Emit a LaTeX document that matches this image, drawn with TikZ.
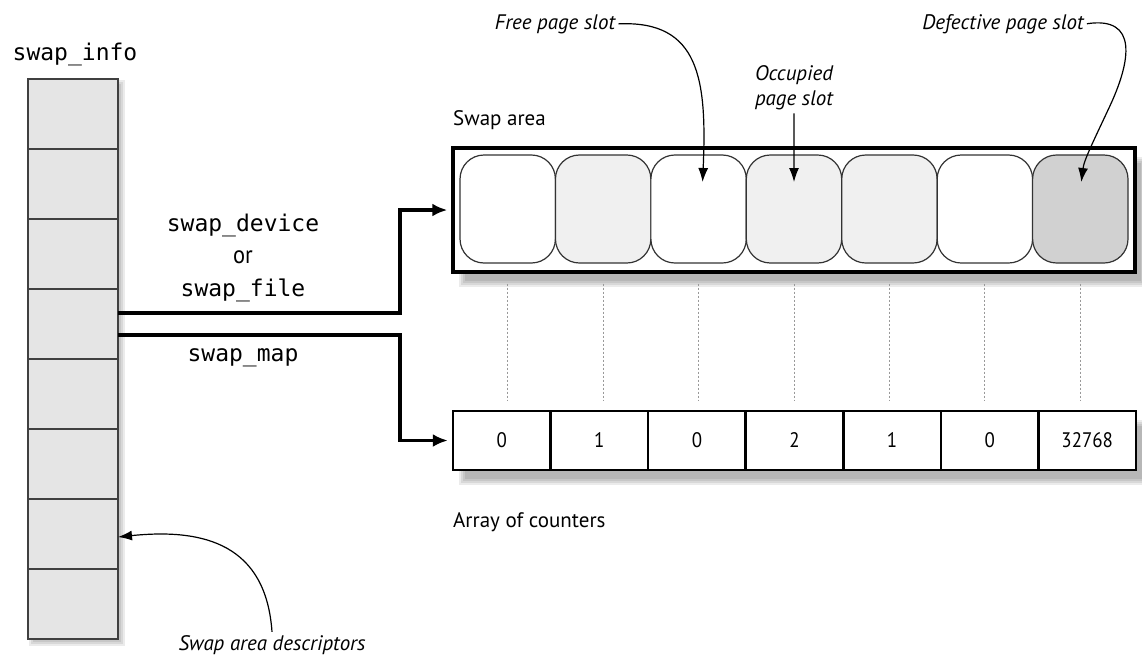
\documentclass[tikz,border=0pt]{standalone}
\usepackage{fontspec}
\setmainfont{PT Sans}
\newfontfamily\condfont[FakeStretch=0.9]{PT Sans}
\setmonofont{DejaVu Sans Mono}
\usetikzlibrary{arrows.meta}
\newcommand\mysoftshadow[6]{%
  \foreach \d in {-3,-1,1,3}{%
    \fill[black,opacity=0.08] ({#1+#5-\d},{#2+#6-\d}) rectangle ({#3+#5+\d},{#4+#6+\d});}}
\tikzset{
  cell/.style={draw=black!75, line width=1.8pt, fill=black!10, minimum width=90pt, minimum height=70pt, inner sep=0pt, outer sep=0pt},
  slot/.style={draw=black!80, line width=1.2pt, rounded corners=24pt, minimum width=95.4pt, minimum height=108pt, inner sep=0pt},
  ctr/.style={draw=black, line width=2.5pt, fill=white, minimum width=97.57pt, minimum height=59pt, inner sep=0pt, font=\condfont\fontsize{21}{24}\selectfont},
  area/.style={draw=black, line width=3.5pt, fill=white, minimum width=682pt, minimum height=124pt, inner sep=0pt},
  conn/.style={line width=3.2pt, -{Latex[length=15pt,width=13pt]}, shorten >=4pt},
  ptr/.style={line width=1.2pt, -{Latex[length=14pt,width=10pt]}},
  dotline/.style={black!40, line width=1pt, dash pattern=on 2pt off 2pt, shorten <=20pt, shorten >=10pt},
  mono/.style={font=\ttfamily\fontsize{23}{26}\selectfont, inner sep=2pt},
  lbl/.style={font=\fontsize{21}{24}\selectfont, inner sep=2pt},
  ilbl/.style={font=\itshape\fontsize{21}{25}\selectfont, inner sep=3pt},
}
\begin{document}
\begin{tikzpicture}[x=1pt,y=-1pt]
\useasboundingbox[fill=white] (0,0) rectangle (1142,659);

% swap_info column
\mysoftshadow{28}{79}{118}{639}{4}{4}
\foreach \i in {1,...,8}
  \node[cell] (c\i) at (73,{79+70*(\i-0.5)}) {};
\node[mono, anchor=base] (info) at (75,60) {swap\_info};

% swap area
\mysoftshadow{453}{148}{1135}{272}{9}{12}
\node[area] (area) at (794,210) {};
\foreach \i/\f in {1/white,2/black!6,3/white,4/black!6,5/black!6,6/white,7/black!18}
  \node[slot, fill=\f] (s\i) at ({460+95.43*(\i-0.5)},209) {};
\node[lbl, anchor=base west] (sa) at (451,125) {Swap area};

% counters
\mysoftshadow{453}{411}{1136}{470}{9}{12}
\foreach \i/\v in {1/0,2/1,3/0,4/2,5/1,6/0,7/32768}
  \node[ctr] (k\i) at ({453+97.57*(\i-0.5)},440.5) {\v};
\node[lbl, anchor=base west] (ac) at (451,527) {Array of counters};

% dotted correspondence lines
\foreach \i in {1,...,7}
  \draw[dotline] (s\i.south) -- (s\i.south |- k1.north);

% connectors
\draw[conn] ([yshift=11pt]c4.east) -- ++(282,0) |- (area.west);
\draw[conn] ([yshift=-11pt]c4.east) -- ++(282,0) |- (k1.west);
\node[mono, anchor=base] (dev) at (243,231) {swap\_device};
\node[anchor=base, inner sep=2pt, font=\condfont\fontsize{25}{28}\selectfont] (or) at (243,263) {or};
\node[mono, anchor=base] (file) at (243,296) {swap\_file};
\node[mono, anchor=base] (map) at (243,361) {swap\_map};

% annotations
\node[ilbl, anchor=base] (free) at (555,29) {Free page slot};
\draw[ptr] (free.east) .. controls (700,20) and (707,80) .. ([xshift=4pt,yshift=27pt]s3.center);
\node[ilbl, align=center] (occ) at (794,88) {Occupied\\page slot};
\draw[ptr] (occ.south) -- ([yshift=27pt]s4.center);
\node[ilbl, anchor=base] (def) at (1003,29) {Defective page slot};
\draw[ptr] (def.east) .. controls (1138,16) and (1132,60) .. (1108,110)
  .. controls (1094,140) and (1084,160) .. ([xshift=1pt,yshift=27pt]s7.center);
\node[ilbl, anchor=base] (desc) at (272,650) {Swap area descriptors};
\draw[ptr] (desc.north) .. controls (266,545) and (205,528) .. ([yshift=-3pt]c7.east);
\end{tikzpicture}
\end{document}
